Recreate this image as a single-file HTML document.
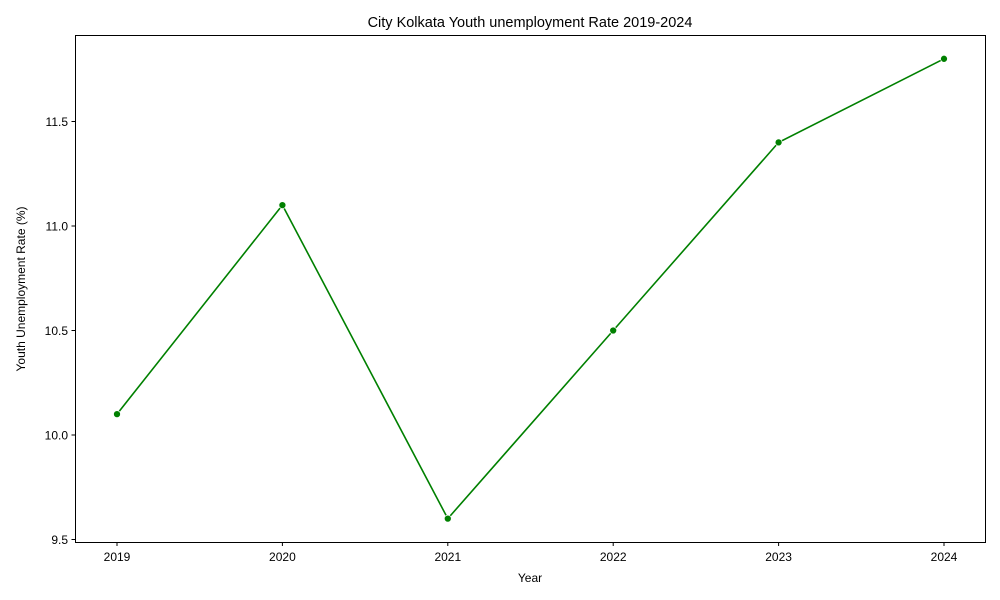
<!DOCTYPE html>
<html><head><meta charset="utf-8"><style>
body{margin:0;background:#fff;}
svg{display:block;font-family:"Liberation Sans","DejaVu Sans",sans-serif;}
</style></head><body>
<svg id="chart" width="1000" height="600">
<rect x="0" y="0" width="1000" height="600" fill="#fff"/>
<text x="530" y="27" text-anchor="middle" font-size="14.5">City Kolkata Youth unemployment Rate 2019-2024</text>
<g id="grid"></g>
<g id="series"></g>
<rect x="75.5" y="35.5" width="910" height="507" fill="none" stroke="#000" stroke-width="1"/>
<text x="530" y="582" text-anchor="middle" font-size="12">Year</text>
<text transform="translate(25,289) rotate(-90)" text-anchor="middle" font-size="12">Youth Unemployment Rate (%)</text>
</svg>
<script>
const years = [2019, 2020, 2021, 2022, 2023, 2024];
const rates = [10.1, 11.1, 9.6, 10.5, 11.4, 11.8];
const yTicks = [9.5, 10.0, 10.5, 11.0, 11.5];
const yTickLabels = ["9.5", "10.0", "10.5", "11.0", "11.5"];

const NS = "http://www.w3.org/2000/svg";
function xs(v){ return 117 + (v - 2019) * (944 - 117) / 5; }
function ys(v){ return 435 - (v - 10.0) * 209; }
function mk(tag, attrs, parent){
  const e = document.createElementNS(NS, tag);
  for (const k in attrs) e.setAttribute(k, attrs[k]);
  parent.appendChild(e);
  return e;
}
const g = document.getElementById("grid");
years.forEach(y => {
  const x = xs(y);
  const t = mk("line", {x1:x, x2:x, y1:542.5, y2:546, stroke:"#000"}, g);
  
  
  const l = mk("text", {x:x, y:561, "text-anchor":"middle", "font-size":"12"}, g);
  l.textContent = y;
  
  
});
yTicks.forEach((v, i) => {
  const y = ys(v);
  const t = mk("line", {x1:71.5, x2:75.5, y1:y, y2:y, stroke:"#000"}, g);
  
  
  const l = mk("text", {x:68, y:y + 4.5, "text-anchor":"end", "font-size":"12"}, g);
  l.textContent = yTickLabels[i];
  
  
});
const s = document.getElementById("series");
const pts = years.map((y, i) => xs(y) + "," + ys(rates[i])).join(" ");
const line = mk("polyline", {points:pts, fill:"none", stroke:"#008000", "stroke-width":"1.6"}, s);


years.forEach((y, i) => {
  const c = mk("circle", {cx:xs(y), cy:ys(rates[i]), r:3.5, fill:"#008000", stroke:"#fff", "stroke-width":"0.7"}, s);
  
  
});
</script>
</body></html>
